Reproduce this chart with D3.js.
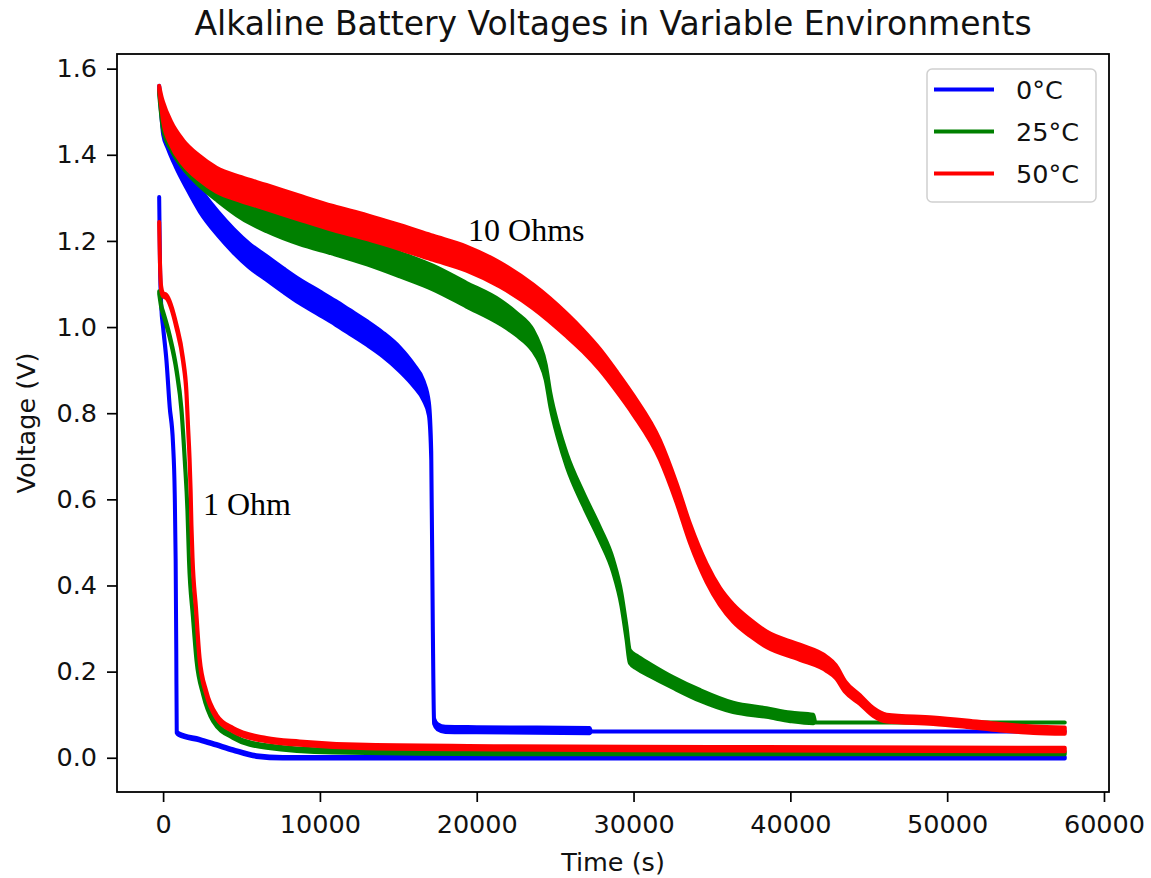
<!DOCTYPE html>
<html>
<head>
<meta charset="utf-8">
<script src="https://cdn.jsdelivr.net/npm/d3@7"></script>
<style>
  html, body { margin: 0; padding: 0; background: #fff; }
  svg { display: block; }
</style>
</head>
<body>
<svg id="chart" width="1151" height="878"></svg>
<script>
// ---------------- DATA ----------------
const chartTitle = "Alkaline Battery Voltages in Variable Environments";
const xLabel = "Time (s)";
const yLabel = "Voltage (V)";
const xTicks = [0, 10000, 20000, 30000, 40000, 50000, 60000];
const yTicks = [0.0, 0.2, 0.4, 0.6, 0.8, 1.0, 1.2, 1.4, 1.6];
const legendLabels = ["0°C", "25°C", "50°C"];
const annotations = [
  { text: "10 Ohms", t: 19450, v: 1.199 },
  { text: "1 Ohm", t: 2545, v: 0.564 }
];

// 0°C, 10 Ohm load: time (s), mean voltage (V), noise spread (V, peak-to-peak)
const t0C10 = [-250, -100, 0, 300, 800, 1500, 2350, 3500, 4500, 5500, 6600, 7700, 8700, 10000, 11000, 11900, 13000, 14000, 15100, 16000, 16600, 16950, 17100, 17200, 17280, 17500, 18000, 20000, 27200, 27300, 57500];
const v0C10 = [1.555, 1.50, 1.47, 1.44, 1.40, 1.35, 1.295, 1.24, 1.20, 1.166, 1.137, 1.108, 1.083, 1.055, 1.033, 1.012, 0.986, 0.960, 0.925, 0.887, 0.853, 0.81, 0.70, 0.30, 0.085, 0.072, 0.066, 0.065, 0.063, 0.061, 0.061];
const s0C10 = [0.01, 0.03, 0.045, 0.05, 0.055, 0.055, 0.055, 0.055, 0.055, 0.055, 0.055, 0.055, 0.055, 0.055, 0.055, 0.055, 0.055, 0.055, 0.055, 0.05, 0.045, 0.03, 0.02, 0.015, 0.012, 0.012, 0.012, 0.012, 0.012, 0.0, 0.0];

// 0°C, 1 Ohm load
const t0C1 = [-250, -200, -120, 0, 210, 420, 630, 740, 800, 840, 870, 1000, 2330, 3400, 4460, 5950, 7630, 57500];
const v0C1 = [1.30, 1.15, 1.05, 1.00, 0.924, 0.815, 0.731, 0.615, 0.46, 0.25, 0.06, 0.055, 0.042, 0.030, 0.018, 0.004, 0.0, 0.0];
const s0C1 = [0.004, 0.004, 0.004, 0.004, 0.004, 0.004, 0.004, 0.004, 0.004, 0.004, 0.004, 0.004, 0.004, 0.004, 0.004, 0.004, 0.004, 0.004];

// 25°C, 10 Ohm load
const t25C10 = [-250, 0, 500, 1200, 2350, 3500, 5000, 6600, 8700, 10800, 13000, 15100, 17200, 19350, 21470, 22500, 23600, 24000, 24400, 24700, 25200, 25750, 26800, 27850, 28700, 29230, 29550, 29760, 30200, 31040, 32500, 34230, 36350, 38480, 40000, 41460, 41600, 57500];
const v25C10 = [1.545, 1.48, 1.44, 1.40, 1.355, 1.32, 1.28, 1.25, 1.22, 1.198, 1.173, 1.145, 1.115, 1.075, 1.035, 1.008, 0.968, 0.94, 0.895, 0.83, 0.755, 0.69, 0.60, 0.52, 0.445, 0.367, 0.29, 0.235, 0.222, 0.204, 0.175, 0.145, 0.117, 0.105, 0.095, 0.09, 0.082, 0.082];
const s25C10 = [0.01, 0.045, 0.055, 0.055, 0.055, 0.055, 0.055, 0.055, 0.055, 0.055, 0.055, 0.055, 0.055, 0.055, 0.055, 0.052, 0.048, 0.042, 0.036, 0.032, 0.03, 0.03, 0.03, 0.03, 0.03, 0.03, 0.03, 0.03, 0.03, 0.028, 0.025, 0.025, 0.022, 0.02, 0.02, 0.02, 0.0, 0.0];

// 25°C, 1 Ohm load
const t25C1 = [-250, -100, 0, 420, 850, 1170, 1380, 1550, 1650, 1900, 2130, 2550, 3190, 4460, 6590, 10840, 21470, 57500];
const v25C1 = [1.08, 1.045, 1.033, 0.978, 0.901, 0.808, 0.692, 0.576, 0.46, 0.33, 0.228, 0.150, 0.088, 0.049, 0.026, 0.015, 0.011, 0.011];
const s25C1 = [0.006, 0.006, 0.006, 0.006, 0.006, 0.006, 0.006, 0.006, 0.006, 0.006, 0.006, 0.006, 0.006, 0.006, 0.006, 0.006, 0.006, 0.006];

// 50°C, 10 Ohm load
const t50C10 = [-250, -100, 0, 500, 1270, 2300, 3400, 5000, 6590, 8713, 10840, 13000, 15090, 17220, 19350, 21470, 23600, 25730, 26780, 27850, 28900, 29970, 31680, 32740, 33590, 34660, 35500, 36350, 37500, 38480, 40610, 42310, 42900, 43500, 44440, 45300, 46140, 49110, 51240, 53370, 55500, 57500];
const v50C10 = [1.555, 1.52, 1.50, 1.45, 1.406, 1.37, 1.342, 1.32, 1.302, 1.277, 1.253, 1.232, 1.209, 1.184, 1.159, 1.122, 1.071, 1.005, 0.968, 0.925, 0.875, 0.82, 0.715, 0.615, 0.522, 0.429, 0.375, 0.336, 0.30, 0.275, 0.245, 0.218, 0.200, 0.165, 0.135, 0.106, 0.092, 0.086, 0.079, 0.071, 0.065, 0.063];
const s50C10 = [0.01, 0.03, 0.045, 0.055, 0.056, 0.056, 0.056, 0.056, 0.056, 0.056, 0.056, 0.056, 0.056, 0.056, 0.056, 0.056, 0.055, 0.053, 0.05, 0.048, 0.046, 0.045, 0.045, 0.045, 0.045, 0.042, 0.04, 0.04, 0.038, 0.036, 0.035, 0.033, 0.03, 0.025, 0.02, 0.018, 0.016, 0.015, 0.015, 0.015, 0.015, 0.015];

// 50°C, 1 Ohm load
const t50C1 = [-250, -200, -120, 0, 210, 850, 1270, 1490, 1590, 1690, 1760, 1810, 1880, 2100, 2330, 2760, 3400, 4460, 6590, 8710, 12970, 21470, 35000, 57500];
const v50C1 = [1.24, 1.15, 1.09, 1.075, 1.071, 1.002, 0.924, 0.847, 0.769, 0.692, 0.615, 0.537, 0.46, 0.344, 0.228, 0.150, 0.096, 0.065, 0.042, 0.034, 0.026, 0.023, 0.021, 0.019];
const s50C1 = [0.008, 0.008, 0.008, 0.008, 0.008, 0.008, 0.008, 0.008, 0.008, 0.008, 0.008, 0.008, 0.008, 0.008, 0.008, 0.008, 0.008, 0.008, 0.008, 0.008, 0.008, 0.008, 0.008, 0.008];

const seriesColors = ["#0000ff", "#008000", "#ff0000"];

// ---------------- LAYOUT ----------------
const svg = d3.select("#chart");
const plot = { left: 117, right: 1109, top: 54, bottom: 792 };
const x = d3.scaleLinear().domain([-2940, 60320]).range([plot.left, plot.right]);
const y = d3.scaleLinear().domain([-0.0795, 1.634]).range([plot.bottom, plot.top]);

const FONT = "'DejaVu Sans', Verdana, sans-serif";
const TXT = "#111";

// ---------------- SERIES ----------------
function build(ts, vs, ss) { return ts.map((t, i) => ({ t, v: vs[i], s: ss[i] })); }
const series = [
  { data: build(t0C10, v0C10, s0C10), color: seriesColors[0] },
  { data: build(t0C1, v0C1, s0C1), color: seriesColors[0] },
  { data: build(t25C10, v25C10, s25C10), color: seriesColors[1] },
  { data: build(t25C1, v25C1, s25C1), color: seriesColors[1] },
  { data: build(t50C10, v50C10, s50C10), color: seriesColors[2] },
  { data: build(t50C1, v50C1, s50C1), color: seriesColors[2] }
];

const area = d3.area()
  .x(d => x(d.t))
  .y0(d => y(d.v - d.s / 2))
  .y1(d => y(d.v + d.s / 2))
  .curve(d3.curveMonotoneX);

const gSeries = svg.append("g");
series.forEach(s => {
  gSeries.append("path")
    .attr("d", area(s.data))
    .attr("fill", s.color)
    .attr("stroke", s.color)
    .attr("stroke-width", 4)
    .attr("stroke-linejoin", "round")
    .attr("stroke-linecap", "round");
});

// ---------------- AXES ----------------
const xAxis = d3.axisBottom(x).tickValues(xTicks).tickFormat(d3.format("d"))
  .tickSize(10).tickSizeOuter(0).tickPadding(13);
const yAxis = d3.axisLeft(y).tickValues(yTicks).tickFormat(d3.format(".1f"))
  .tickSize(10).tickSizeOuter(0).tickPadding(10);

const gx = svg.append("g").attr("transform", `translate(0,${plot.bottom})`).call(xAxis);
const gy = svg.append("g").attr("transform", `translate(${plot.left},0)`).call(yAxis);
[gx, gy].forEach(g => {
  g.select(".domain").remove();
  g.selectAll(".tick line").attr("stroke", "#000").attr("stroke-width", 1.7);
  g.selectAll(".tick text").attr("fill", TXT).style("font-family", FONT).style("font-size", "25.5px");
});

// frame
svg.append("rect")
  .attr("x", plot.left).attr("y", plot.top)
  .attr("width", plot.right - plot.left).attr("height", plot.bottom - plot.top)
  .attr("fill", "none").attr("stroke", "#000").attr("stroke-width", 1.8);

// ---------------- TEXT ----------------
svg.append("text")
  .attr("x", (plot.left + plot.right) / 2).attr("y", 35)
  .attr("text-anchor", "middle").attr("fill", TXT)
  .style("font-family", FONT).style("font-size", "33px")
  .text(chartTitle);

svg.append("text")
  .attr("x", (plot.left + plot.right) / 2).attr("y", 871)
  .attr("text-anchor", "middle").attr("fill", TXT)
  .style("font-family", FONT).style("font-size", "25.5px")
  .text(xLabel);

svg.append("text")
  .attr("transform", `translate(35,${(plot.top + plot.bottom) / 2}) rotate(-90)`)
  .attr("text-anchor", "middle").attr("fill", TXT)
  .style("font-family", FONT).style("font-size", "25.5px")
  .text(yLabel);

annotations.forEach(a => {
  svg.append("text")
    .attr("x", x(a.t)).attr("y", y(a.v))
    .attr("fill", "#000")
    .style("font-family", "'Liberation Serif', 'Times New Roman', serif")
    .style("font-size", "32px")
    .text(a.text);
});

// ---------------- LEGEND ----------------
const lg = svg.append("g").attr("transform", "translate(927,69)");
lg.append("rect")
  .attr("x", 0).attr("y", 0).attr("width", 169).attr("height", 133)
  .attr("rx", 5).attr("ry", 5)
  .attr("fill", "#fff").attr("stroke", "#d0d0d0").attr("stroke-width", 1.5);
legendLabels.forEach((lab, i) => {
  const yy = 20.5 + i * 42;
  lg.append("line")
    .attr("x1", 7).attr("x2", 67).attr("y1", yy).attr("y2", yy)
    .attr("stroke", seriesColors[i]).attr("stroke-width", 4);
  lg.append("text")
    .attr("x", 89).attr("y", yy + 9.5)
    .attr("fill", TXT)
    .style("font-family", FONT).style("font-size", "25.5px")
    .text(lab);
});
</script>
</body>
</html>
